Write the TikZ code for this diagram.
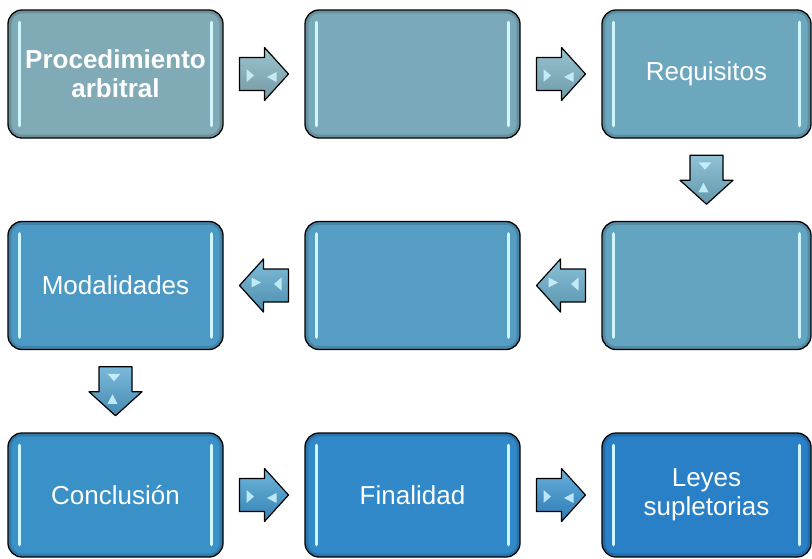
\documentclass[tikz,border=0pt]{standalone}
\usepackage{fontspec}
\setmainfont{Liberation Sans}
\usepackage{tikz}
\usetikzlibrary{calc}
\definecolor{c1}{HTML}{80AAB5}
\definecolor{c2}{HTML}{7AA9B9}
\definecolor{c3}{HTML}{6DA7BE}
\definecolor{c4}{HTML}{63A4C1}
\definecolor{c5}{HTML}{569DC3}
\definecolor{c6}{HTML}{4D99C6}
\definecolor{c7}{HTML}{3A91C8}
\definecolor{c8}{HTML}{3189C9}
\definecolor{c9}{HTML}{2A80C6}
\definecolor{glosscol}{HTML}{CFF6FF}
\tikzset{
    stepbox/.style = {draw=black, line width=1.3pt, rounded corners=14pt,
      minimum width=215pt, minimum height=128pt, inner sep=0pt,
      text=white, align=center, font=\fontsize{26}{29}\selectfont},
    rim/.style = {draw=black, opacity=0.15, line width=3pt, rounded corners=12pt},
    gloss/.style = {draw=glosscol, line width=3.5pt, line cap=round},
    blockarrow/.pic = {
    \draw[line width=1.2pt, line join=round, top color=#1!65!glosscol, bottom color=#1!90!black]
      (-24.5,-16.5) -- (0.5,-16.5) -- (0.5,-26.5) -- (24.5,0) -- (0.5,26.5)
      -- (0.5,16.5) -- (-24.5,16.5) -- cycle;
    \fill[glosscol, opacity=0.85] (-17.5,-5) -- (-10,1.5) -- (-17.5,8) -- cycle;
    \fill[glosscol, opacity=0.85] (12.5,-2) -- (3,3) -- (12.5,8) -- cycle;
    }
}
\begin{document}
\begin{tikzpicture}[line cap=round,line join=round,x=1pt,y=-1pt]
    \useasboundingbox (0,0) rectangle (812,558);

    % boxes
    \node[stepbox, fill=c1, font=\fontsize{26}{29}\selectfont\bfseries] (proc) at (115.5,74) {Procedimiento\\arbitral};
    \node[stepbox, fill=c2] (blankA) at (412.5,74) {};
    \node[stepbox, fill=c3, minimum width=209pt] (req) at (706.5,74) {Requisitos};
    \node[stepbox, fill=c4, minimum width=209pt] (blankB) at (706.5,285.5) {};
    \node[stepbox, fill=c5] (blankC) at (412.5,285.5) {};
    \node[stepbox, fill=c6] (mod) at (115.5,285.5) {Modalidades};
    \node[stepbox, fill=c7, minimum height=124pt] (concl) at (115.5,495) {Conclusión};
    \node[stepbox, fill=c8, minimum height=124pt] (fin) at (412.5,495) {Finalidad};
    \node[stepbox, fill=c9, minimum height=124pt, minimum width=209pt] (leyes) at (706.5,495) {Leyes\\supletorias};

    % shine
    \foreach \n in {proc,blankA,req,blankB,blankC,mod,concl,fin,leyes} {
      \draw[rim] ([shift={(2.5pt,-2.5pt)}]\n.north west) rectangle ([shift={(-2.5pt,2.5pt)}]\n.south east);
      \draw[gloss] ([shift={(12pt,-13pt)}]\n.north west) -- ([shift={(12pt,13pt)}]\n.south west);
      \draw[gloss] ([shift={(-12pt,-13pt)}]\n.north east) -- ([shift={(-12pt,13pt)}]\n.south east);
    }

    % block arrows
    \path ($(proc.east)!0.5!(blankA.west)$) pic {blockarrow=c1};
    \path ($(blankA.east)!0.5!(req.west)$) pic {blockarrow=c2};
    \path ($(req.south)!0.5!(blankB.north)$) pic[rotate=-90] {blockarrow=c3};
    \path ($(blankB.west)!0.5!(blankC.east)$) pic[rotate=180] {blockarrow=c4};
    \path ($(blankC.west)!0.5!(mod.east)$) pic[rotate=180] {blockarrow=c5};
    \path ($(mod.south)!0.5!(concl.north)$) pic[rotate=-90] {blockarrow=c6};
    \path ($(concl.east)!0.5!(fin.west)$) pic {blockarrow=c7};
    \path ($(fin.east)!0.5!(leyes.west)$) pic {blockarrow=c8};
\end{tikzpicture}
\end{document}
